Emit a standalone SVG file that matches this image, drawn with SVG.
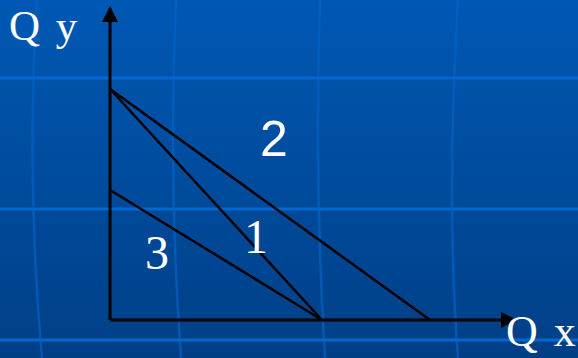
<svg xmlns="http://www.w3.org/2000/svg" width="578" height="358" viewBox="0 0 578 358">
<defs>
<linearGradient id="bg" x1="0" y1="0" x2="0" y2="1">
<stop offset="0" stop-color="#0058b4"/>
<stop offset="1" stop-color="#003f86"/>
</linearGradient>
<marker id="arr" viewBox="0 0 16 16" refX="14" refY="8" markerWidth="16" markerHeight="16" markerUnits="userSpaceOnUse" orient="auto">
<path d="M0,0 L16,8 L0,16 Z" fill="#000"/>
</marker>
<style>
.hg{stroke:#0068d0;stroke-width:3;fill:none}
.vg{stroke:#0062c6;stroke-width:2.5;fill:none;opacity:0.7}
.ax{stroke:#000;stroke-width:3;fill:none}
.ln{stroke:#000;stroke-width:2.5;fill:none}
.tm{font-family:"Liberation Serif","Times New Roman",serif;fill:#fff}
.sn{font-family:"Liberation Sans",Arial,sans-serif;fill:#fff}
</style>
</defs>
<g id="background">
<rect width="578" height="358" fill="url(#bg)"/>
<path class="vg" d="M37,0 Q26,180 42,358"/>
<path class="vg" d="M176,0 Q168,180 181,358"/>
<path class="vg" d="M320,0 Q314,180 325,358"/>
<path class="vg" d="M458,0 Q446,200 458,358"/>
<line class="hg" x1="0" y1="78" x2="578" y2="78"/>
<line class="hg" x1="0" y1="209" x2="578" y2="209"/>
<line class="hg" x1="0" y1="340" x2="578" y2="340"/>
</g>
<g id="connectors">
<line class="ax" x1="110" y1="320" x2="110" y2="8" marker-end="url(#arr)"/>
<line class="ax" x1="110" y1="320" x2="515" y2="320" marker-end="url(#arr)"/>
<line class="ln" x1="110" y1="89" x2="430" y2="320"/>
<line class="ln" x1="110" y1="89" x2="322" y2="320"/>
<line class="ln" x1="110" y1="190" x2="322" y2="320"/>
</g>
<g id="label-qy"><text class="tm" x="9" y="40" font-size="43" word-spacing="5">Q y</text></g>
<g id="label-qx"><text class="tm" x="506" y="346" font-size="44" word-spacing="5">Q x</text></g>
<g id="label-2"><text class="sn" x="260" y="156" font-size="50">2</text></g>
<g id="label-1"><text class="tm" x="244" y="253" font-size="48">1</text></g>
<g id="label-3"><text class="tm" x="145" y="269" font-size="48">3</text></g>
</svg>
